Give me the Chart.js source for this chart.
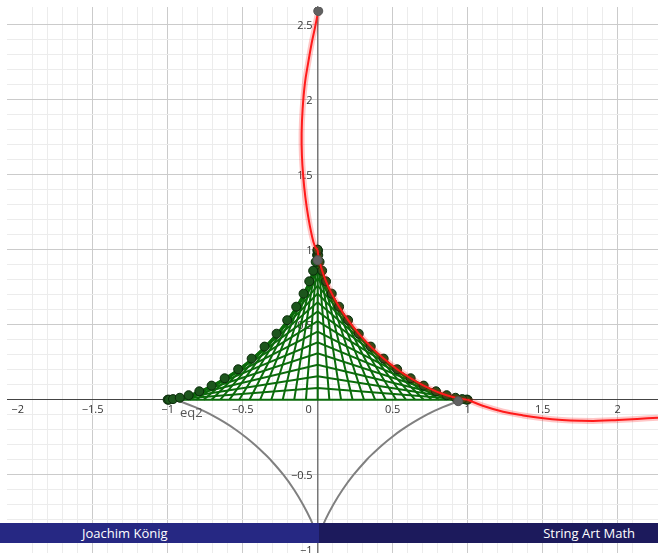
<!DOCTYPE html>
<html>
<head>
<meta charset="utf-8">
<title>String Art Math</title>
<script src="https://cdn.jsdelivr.net/npm/chart.js@4.4.1/dist/chart.umd.min.js"></script>
<style>
html, body { margin: 0; padding: 0; background: #fff; }
#wrap { position: relative; width: 658px; height: 553px; overflow: hidden; }
#footer { position: absolute; left: 0; top: 523px; width: 658px; height: 20px; font-family: "Open Sans", sans-serif; font-size: 13px; line-height: 20px; color: #fff; }
#footer .left { position: absolute; left: 0; top: 0; width: 319px; height: 20px; background: #262883; }
#footer .right { position: absolute; left: 319px; top: 0; width: 339px; height: 20px; background: #1c1a5c; }
#footer .left span { position: absolute; left: 82px; }
#footer .right span { position: absolute; right: 23px; }
</style>
</head>
<body>
<div id="wrap">
  <canvas id="chart"></canvas>
  <div id="footer">
    <div class="left"><span>Joachim König</span></div>
    <div class="right"><span>String Art Math</span></div>
  </div>
</div>
<script>
// view window
var xMin = -2.071, xMax = 2.269;
var yMin = -1.022, yMax = 2.618;

// axis labels
var xTicks = [-2, -1.5, -1, -0.5, 0, 0.5, 1, 1.5, 2];
var xTickLabels = ['\u22122', '\u22121.5', '\u22121', '\u22120.5', '0', '0.5', '1', '1.5', '2'];
var yTicks = [-1, -0.5, 0.5, 1, 1.5, 2, 2.5];
var yTickLabels = ['\u22121', '\u22120.5', '0.5', '1', '1.5', '2', '2.5'];

// strings: foot on the x axis (both sides), top end on the y axis
var stringFoot = [1, 0.997, 0.988, 0.972, 0.951, 0.924, 0.891, 0.853, 0.809, 0.760, 0.707, 0.649, 0.588, 0.523, 0.454, 0.383, 0.309, 0.233, 0.156, 0.078, 0];
var stringTop = [0, 0.078, 0.156, 0.233, 0.309, 0.383, 0.454, 0.523, 0.588, 0.649, 0.707, 0.760, 0.809, 0.853, 0.891, 0.924, 0.951, 0.972, 0.988, 0.997, 1];

// nails on the curve (right half, left half is the mirror)
var nailX = [1, 0.991, 0.964, 0.919, 0.860, 0.789, 0.707, 0.620, 0.530, 0.440, 0.354, 0.274, 0.203, 0.143, 0.094, 0.056, 0.030, 0.013, 0.004, 0.0005, 0];
var nailY = [0, 0.0005, 0.004, 0.013, 0.030, 0.056, 0.094, 0.143, 0.203, 0.274, 0.354, 0.440, 0.530, 0.620, 0.707, 0.789, 0.860, 0.919, 0.964, 0.991, 1];

// red curve: upper loop, then along the right nails, then the tail
var redTopX = [0.004, -0.018, -0.04, -0.064, -0.085, -0.1, -0.107, -0.105, -0.096, -0.082, -0.063, -0.042, -0.018, 0];
var redTopY = [2.591, 2.48, 2.376, 2.24, 2.109, 1.94, 1.776, 1.63, 1.487, 1.35, 1.22, 1.11, 1.02, 1];
var redTailX = [1, 1.1, 1.237, 1.37, 1.504, 1.63, 1.749, 1.87, 2.002, 2.13, 2.269];
var redTailY = [0, -0.04, -0.08, -0.105, -0.124, -0.135, -0.14, -0.141, -0.135, -0.128, -0.12];

// gray curve eq2 (two arcs)
var grayY = [0, -0.02, -0.05, -0.075, -0.1, -0.15, -0.2, -0.25, -0.3, -0.35, -0.4, -0.5, -0.6, -0.7, -0.8, -0.913];
var grayLeftX = [-0.952, -0.893, -0.817, -0.761, -0.711, -0.623, -0.546, -0.479, -0.419, -0.365, -0.315, -0.229, -0.157, -0.097, -0.046, 0];
var grayRightX = [0.965, 0.91, 0.835, 0.778, 0.728, 0.64, 0.562, 0.494, 0.433, 0.378, 0.327, 0.24, 0.166, 0.104, 0.052, 0.005];

// gray points
var grayPtX = [0.004, 0, 0.937];
var grayPtY = [2.591, 0.93, -0.01];

function pts(xs, ys) {
  return xs.map(function(x, i) { return { x: x, y: ys[i] }; });
}

var datasets = [];

stringFoot.forEach(function(f, k) {
  datasets.push({
    data: [{ x: -f, y: 0 }, { x: 0, y: stringTop[k] }, { x: f, y: 0 }],
    showLine: true, borderColor: '#0b6b0b', borderWidth: 2, pointRadius: 0, tension: 0, order: 50
  });
});

[grayLeftX, grayRightX].forEach(function(xs) {
  datasets.push({
    data: pts(xs, grayY),
    showLine: true, borderColor: '#808080', borderWidth: 2, pointRadius: 0, tension: 0.4, order: 45
  });
});

datasets.push({
  data: pts(nailX.map(function(v) { return -v; }), nailY).concat(pts(nailX, nailY)),
  showLine: false, pointRadius: 4.5, pointBackgroundColor: '#1c561c', pointBorderColor: '#0a2a0a', pointBorderWidth: 1, order: 40
});

// red curve pieces, each with a soft halo
var redPieces = [
  { data: pts(redTopX, redTopY), tension: 0.4 },
  { data: pts(nailX.slice().reverse(), nailY.slice().reverse()), tension: 0.3 },
  { data: pts(redTailX, redTailY), tension: 0.4 }
];
redPieces.forEach(function(p) {
  datasets.push({
    data: p.data, showLine: true, borderColor: 'rgba(255,0,0,0.22)', borderWidth: 6,
    pointRadius: 0, tension: p.tension, order: 35
  });
  datasets.push({
    data: p.data, showLine: true, borderColor: '#ff1a1a', borderWidth: 2,
    pointRadius: 0, tension: p.tension, order: 30
  });
});

datasets.push({
  data: pts(grayPtX, grayPtY),
  showLine: false, pointRadius: 4.5, pointBackgroundColor: '#616161', pointBorderColor: '#555', pointBorderWidth: 1, order: 10
});

function gridColor(ctx) {
  if (!ctx.tick) return 'rgba(0,0,0,0)';
  var v = ctx.tick.value;
  if (Math.abs(v * 10 - Math.round(v * 10)) > 1e-6) return 'rgba(0,0,0,0)';
  if (Math.abs(v * 2 - Math.round(v * 2)) < 1e-6) return '#cbcbcb';
  return '#ececec';
}

var axisLabels = {
  id: 'axisLabels',
  beforeDatasetsDraw: function(chart) {
    var ctx = chart.ctx, sx = chart.scales.x, sy = chart.scales.y;
    var x0 = sx.getPixelForValue(0), y0 = sy.getPixelForValue(0);
    ctx.save();
    ctx.font = '11px "Open Sans", sans-serif';
    ctx.fillStyle = '#333';
    ctx.textBaseline = 'middle';
    ctx.textAlign = 'center';
    xTicks.forEach(function(v, i) {
      var px = sx.getPixelForValue(v);
      if (v === 0) px -= 9;
      ctx.fillText(xTickLabels[i], px, y0 + 10);
    });
    ctx.textAlign = 'right';
    yTicks.forEach(function(v, i) {
      ctx.fillText(yTickLabels[i], x0 - 5, sy.getPixelForValue(v) + 1);
    });
    ctx.restore();
  },
  afterDatasetsDraw: function(chart) {
    var ctx = chart.ctx, sx = chart.scales.x, sy = chart.scales.y;
    ctx.save();
    ctx.font = '13px "Open Sans", sans-serif';
    ctx.fillStyle = '#555';
    ctx.textBaseline = 'middle';
    ctx.textAlign = 'left';
    ctx.fillText('eq2', sx.getPixelForValue(-0.918), sy.getPixelForValue(-0.089));
    ctx.restore();
  }
};

var ctx = document.getElementById('chart').getContext('2d');
var chart = new Chart(ctx, {
  type: 'scatter',
  data: { datasets: datasets },
  options: {
    responsive: true,
    maintainAspectRatio: false,
    animation: false,
    events: [],
    layout: { autoPadding: false, padding: { left: 7, top: 7, right: 0, bottom: 0 } },
    plugins: { legend: { display: false }, tooltip: { enabled: false } },
    scales: {
      x: {
        type: 'linear', min: xMin, max: xMax, position: { y: 0 },
        ticks: { display: false, stepSize: 0.1, autoSkip: false },
        grid: { color: gridColor, lineWidth: 1, drawTicks: false },
        border: { color: '#444', width: 1 }
      },
      y: {
        type: 'linear', min: yMin, max: yMax, position: { x: 0 },
        ticks: { display: false, stepSize: 0.1, autoSkip: false },
        grid: { color: gridColor, lineWidth: 1, drawTicks: false },
        border: { color: '#777', width: 1.5 }
      }
    }
  },
  plugins: [axisLabels]
});
</script>
</body>
</html>
